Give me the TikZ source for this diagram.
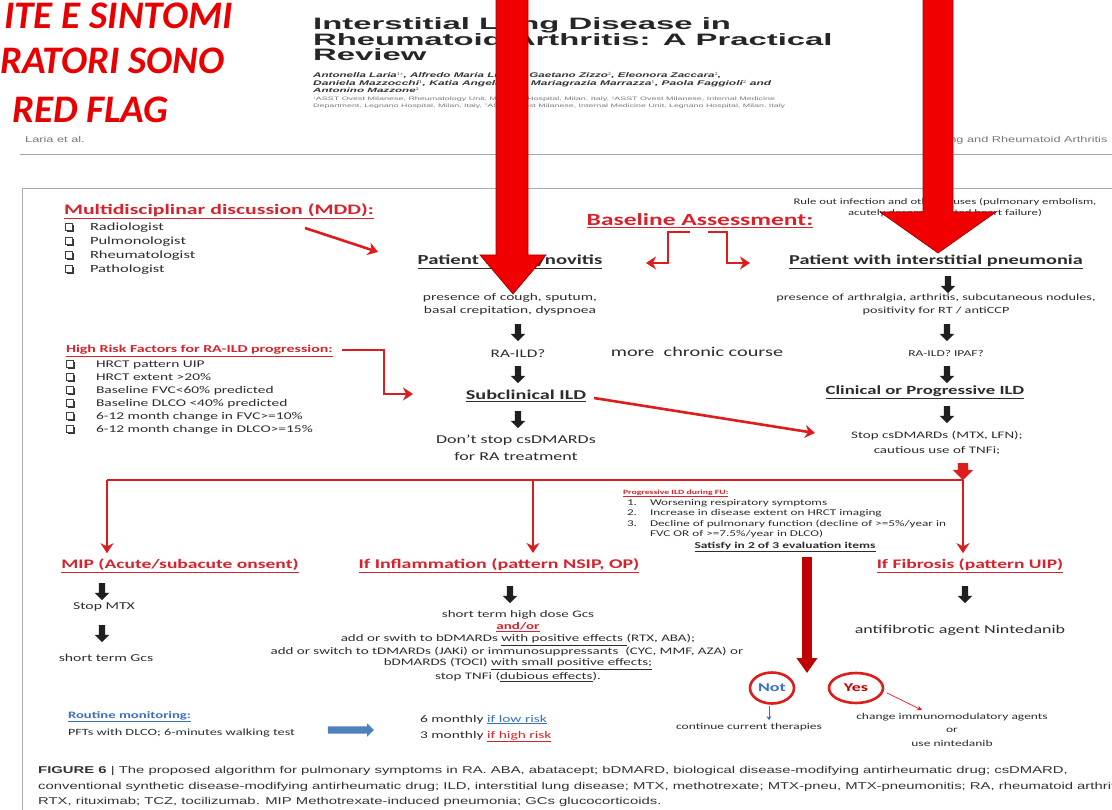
\documentclass[tikz,border=0pt]{standalone}
\usepackage{fontspec}
\setmainfont{Carlito}[FakeStretch=1.5]
\newfontfamily\slogan{Carlito}
\newfontfamily\titlef{Liberation Sans}[FakeStretch=1.99]
\newfontfamily\capf{Liberation Sans}[FakeStretch=1.5]
\usetikzlibrary{shapes.arrows,shapes.geometric,arrows.meta,shadows,calc}

\definecolor{flagred}{RGB}{232,0,0}
\definecolor{headred}{RGB}{215,35,45}
\definecolor{linered}{RGB}{222,28,28}
\definecolor{bigred}{RGB}{240,0,0}
\definecolor{bigredline}{RGB}{165,0,0}
\definecolor{darkred}{RGB}{192,0,0}
\definecolor{ink}{RGB}{45,45,45}
\definecolor{blutxt}{RGB}{60,112,190}
\definecolor{bluarr}{RGB}{79,129,189}
\definecolor{greytxt}{RGB}{120,120,120}

\tikzset{
  every node/.style={inner sep=0pt, outer sep=0pt, text=ink},
  fs/.style={font=\fontsize{#1}{#1}\selectfont},
  fsb/.style={font=\fontsize{#1}{#1}\selectfont\bfseries},
  redhead/.style={fsb=#1, text=headred},
  dn/.style={single arrow, draw=none, fill=black!88, shape border rotate=270,
             inner xsep=3pt, inner ysep=0pt, minimum height=17pt,
             single arrow head extend=4pt},
  chk/.style={draw=black!75, fill=white, line width=0.7pt, minimum size=6.5pt,
              general shadow={fill=black!80, shadow xshift=1.5pt, shadow yshift=-1.5pt}},
  rline/.style={draw=linered, line width=2.6pt},
  rarr/.style={rline, -{Stealth[length=10pt,width=13pt]}},
  bigarrow/.style={fill=bigred, draw=bigredline, line width=0.7pt},
  yesno/.style={ellipse, draw=linered, line width=2.6pt, fsb=12},
}

\begin{document}
\begin{tikzpicture}[x=1pt,y=-1pt]
\useasboundingbox (0,0) rectangle (1112,810);
\clip (0,0) rectangle (1112,810);
\fill[white] (0,0) rectangle (1112,810);

% ---- slide slogan
\begin{scope}[every node/.style={inner sep=0pt, anchor=base west, text=flagred,
    font=\slogan\fontsize{39}{39}\selectfont\bfseries\itshape}]
  \node (s1) at (4,29) {ITE E SINTOMI};
  \node (s2) at (0,74) {RATORI SONO};
  \node (s3) at (12,123) {RED FLAG};
\end{scope}

% ---- article header
\begin{scope}[every node/.style={inner sep=0pt, anchor=base west, text=black!85,
    font=\titlef\fontsize{16.5}{16.5}\selectfont\bfseries}]
  \node (t1) at (313,30) {Interstitial Lung Disease in};
  \node (t2) at (313,46) {Rheumatoid Arthritis: A Practical};
  \node (t3) at (313,61) {Review};
\end{scope}
\begin{scope}[every node/.style={inner sep=0pt, anchor=base west, text=black!80,
    font=\capf\bfseries\itshape}]
  \node (au1) at (313,78) {\resizebox{408pt}{5.5pt}{Antonella Laria$^{1*}$, Alfredo Maria Lurati$^{1}$, Gaetano Zizzo$^{2}$, Eleonora Zaccara$^{2}$,}};
  \node (au2) at (313,86) {\resizebox{458pt}{5.5pt}{Daniela Mazzocchi$^{1}$, Katia Angela Re$^{1}$, Mariagrazia Marrazza$^{1}$, Paola Faggioli$^{2}$ and}};
  \node (au3) at (313,93) {\resizebox{106pt}{5pt}{Antonino Mazzone$^{2}$}};
\end{scope}
\begin{scope}[every node/.style={inner sep=0pt, anchor=base west, text=greytxt, font=\capf}]
  \node (af1) at (313,101) {\resizebox{462pt}{4pt}{$^{1}$ASST Ovest Milanese, Rheumatology Unit, Magenta Hospital, Milan, Italy, $^{2}$ASST Ovest Milanese, Internal Medicine}};
  \node (af2) at (313,107.5) {\resizebox{472pt}{4pt}{Department, Legnano Hospital, Milan, Italy, $^{3}$ASST Ovest Milanese, Internal Medicine Unit, Legnano Hospital, Milan, Italy}};
  \node[font=\capf\fontsize{8.5}{8.5}\selectfont] (runl) at (25,143) {Laria et al.};
  \node[font=\capf\fontsize{8.5}{8.5}\selectfont] (runr) at (935,143) {Lung and Rheumatoid Arthritis};
\end{scope}
\draw[gray!70, line width=1pt] (20,155) -- (1112,155);

% ---- figure frame
\draw[gray!65, line width=0.8pt] (1112,188) -- (22,188) -- (22,810);

% ---- multidisciplinary discussion
\node[redhead=14.5, anchor=base west] (mdd) at (64,215) {\underline{Multidisciplinar discussion (MDD):}};
\foreach \y/\t [count=\i] in {231/Radiologist, 245/Pulmonologist, 259/Rheumatologist, 273/Pathologist} {
  \node[chk] (mc\i) at (69,\y-4) {};
  \node[fs=11, anchor=base west] (mi\i) at (90,\y) {\t};
}
\coordinate (mddS) at (305,228);
\coordinate (mddE) at (378,252);
\draw[rarr] (mddS) -- (mddE);

% ---- baseline assessment
\node[redhead=17] (base) at (700,221) {\underline{Baseline Assessment:}};
\coordinate (bL) at (690,232);
\coordinate (bR) at (708,232);
\draw[rarr] (bL) -- (668,232) -- (668,263) -- (646,263);
\draw[rarr] (bR) -- (727,232) -- (727,263) -- (750,263);

% ---- right branch
\node[fs=8.5] (rule1) at (945,202) {Rule out infection and other causes (pulmonary embolism,};
\node[fs=8.5] (rule2) at (945,213) {acutely decompensated heart failure)};
\node[dn, minimum height=12pt] (ar0) at (942,233) {};
\node[fsb=13.5] (pip) at (936,262) {\underline{Patient with interstitial pneumonia}};
\node[dn] (ar1) at (948,283) {};
\node[fs=9.5] (r1) at (936,298) {presence of arthralgia, arthritis, subcutaneous nodules,};
\node[fs=9.5] (r2) at (936,311) {positivity for RT / antiCCP};
\node[dn] (ar2) at (947,331) {};
\node[fs=9] (r3) at (946,353) {RA-ILD? IPAF?};
\node[dn] (ar3) at (947,373) {};
\node[fsb=12.5] (cpi) at (925,392) {\underline{Clinical or Progressive ILD}};
\node[dn] (ar4) at (947,413) {};
\node[fs=10] (stop1) at (937,436) {Stop csDMARDs (MTX, LFN);};
\node[fs=10] (stop2) at (937,451) {cautious use of TNFi;};
\node[single arrow, draw=none, fill=linered, shape border rotate=270, minimum height=17pt,
      inner xsep=5pt, inner ysep=0pt, single arrow head extend=5pt] (rar) at (963,469) {};

% ---- left branch
\node[fsb=13.8] (psy) at (510,262) {\underline{Patient with synovitis}};
\node[fs=10.3] (l1) at (510,298) {presence of cough, sputum,};
\node[fs=10.3] (l2) at (510,311) {basal crepitation, dyspnoea};
\node[dn] (al1) at (518,331) {};
\node[fs=11.5] (l3) at (518,354) {RA-ILD?};
\node[dn] (al2) at (518,373) {};
\node[fsb=13.5] (subcl) at (526,396) {\underline{Subclinical ILD}};
\node[dn] (al3) at (518,418) {};
\node[fs=12] (l4) at (516,440) {Don't stop csDMARDs};
\node[fs=12] (l5) at (516,456) {for RA treatment};
\node[fs=13.5] (chr) at (697,352) {more\ \ chronic course};
\coordinate (dS) at (594,398);
\coordinate (dE) at (815,433);
\draw[rarr] (dS) -- (dE);

% ---- high risk factors
\node[redhead=10.6, anchor=base west] (hr) at (66,353) {\underline{High Risk Factors for RA-ILD progression:}};
\foreach \t [count=\i] in {HRCT pattern UIP, HRCT extent >20\%, Baseline FVC<60\% predicted,
    Baseline DLCO <40\% predicted, 6-12 month change in FVC>=10\%, 6-12 month change in DLCO>=15\%} {
  \node[chk] (hc\i) at (70,364+13*\i-13) {};
  \node[fs=10.3, anchor=base west] (hi\i) at (96,368+13*\i-13) {\t};
}
\coordinate (hS) at (342,350);
\draw[rarr] (hS) -- (384,350) -- (384,394) -- (413,394);

% ---- lower split
\node[redhead=13] (mip) at (180,566) {\underline{MIP (Acute/subacute onsent)}};
\node[redhead=13.3] (infl) at (499,566) {\underline{If Inflammation (pattern NSIP, OP)}};
\node[redhead=13] (fib) at (970,566) {\underline{If Fibrosis (pattern UIP)}};
\coordinate (b1) at (107,480);
\coordinate (b2) at (533,480);
\coordinate (b3) at (963,480);
\draw[rline] (b1) -- (b3);
\draw[rarr] (b1) -- ($(b1 |- mip.north)+(0,-6)$);
\draw[rarr] (b2) -- ($(b2 |- infl.north)+(0,-6)$);
\draw[rarr] (b3) -- ($(b3 |- fib.north)+(0,-6)$);

% ---- progressive ILD criteria
\node[redhead=6.5, anchor=base west] (pg) at (623,494) {\underline{Progressive ILD during FU:}};
\node[fs=8.8, anchor=base west] (pn1) at (627,505) {1.};
\node[fs=8.8, anchor=base west] (pt1) at (650,505) {Worsening respiratory symptoms};
\node[fs=8.8, anchor=base west] (pn2) at (627,515.5) {2.};
\node[fs=8.8, anchor=base west] (pt2) at (650,515.5) {Increase in disease extent on HRCT imaging};
\node[fs=8.8, anchor=base west] (pn3) at (627,526) {3.};
\node[fs=8.8, anchor=base west] (pt3) at (650,526) {Decline of pulmonary function (decline of >=5\%/year in};
\node[fs=8.8, anchor=base west] (pt4) at (650,536.5) {FVC OR of >=7.5\%/year in DLCO)};
\node[fsb=9] (sat) at (785,547) {\underline{Satisfy in 2 of 3 evaluation items}};

% ---- MIP
\node[dn] (am1) at (102,590) {};
\node[fs=10.5] (mtx) at (104,607) {Stop MTX};
\node[dn] (am2) at (102,632) {};
\node[fs=10.5] (gcs) at (106,658) {short term Gcs};

% ---- inflammation
\node[dn] (ai) at (510,593) {};
\node[fs=10] (i1) at (518,615) {short term high dose Gcs};
\node[fsb=10, text=headred] (i2) at (518,627) {\underline{and/or}};
\node[fs=10] (i3) at (518,640) {add or swith to bDMARDs \underline{with positive effects }(RTX, ABA);};
\node[fs=10] (i4) at (507,652) {add or switch to tDMARDs (JAKi) or immunosuppressants\ \ (CYC, MMF, AZA) or};
\node[fs=10] (i5) at (518,664) {bDMARDS (TOCI) \underline{with small positive effects;}};
\node[fs=10] (i6) at (518,677) {stop TNFi (\underline{dubious effects}).};

% ---- fibrosis
\node[dn] (af) at (965,593) {};
\node[fs=12] (nint) at (960,630) {antifibrotic agent Nintedanib};

% ---- follow-up decision
\coordinate (pS) at (807,557);
\coordinate (pE) at (807,673);
\draw[darkred, line width=10pt, -{Triangle[length=15pt,width=20pt]}] (pS) -- (pE);
\node[yesno, minimum width=44pt, minimum height=31pt, text=blutxt] (not) at (772,688) {Not};
\node[yesno, minimum width=54pt, minimum height=30pt, text=darkred] (yes) at (856,688) {Yes};
\node[fs=9] (cont) at (749,727) {continue current therapies};
\draw[blutxt, line width=0.7pt, -{Stealth[length=4pt,width=5pt]}] ($(not.south)+(-3,2)$) -- ($(not.south |- cont.north)+(-3,-3)$);
\node[fs=9] (ch1) at (952,717) {change immunomodulatory agents};
\node[fs=9] (ch2) at (952,730) {or};
\node[fs=9] (ch3) at (952,743) {use nintedanib};
\draw[linered, line width=0.7pt, -{Stealth[length=5pt,width=5pt]}] ($(yes.east)+(4,5)$) -- ($(ch1.north)+(-30,-3)$);

% ---- routine monitoring
\node[fsb=9.8, text=blutxt, anchor=base west] (rm) at (68,718) {\underline{Routine monitoring:}};
\node[fs=9.5, anchor=base west] (pft) at (68,735) {PFTs with DLCO; 6-minutes walking test};
\node[single arrow, draw=none, fill=bluarr, minimum height=46pt, inner ysep=3.5pt, inner xsep=0pt,
      single arrow head extend=3pt] (ba) at (349,730) {};
\node[fs=10.3, anchor=base west] (m6) at (420,722) {6 monthly \textcolor{blutxt}{\underline{if low risk}}};
\node[fs=10.3, anchor=base west] (m3) at (420,738) {3 monthly \textcolor{headred}{\underline{if high risk}}};

% ---- caption
\begin{scope}[every node/.style={inner sep=0pt, anchor=base west, text=black!80,
    font=\capf\fontsize{9.9}{9.9}\selectfont}]
  \node (c1) at (38,773) {\textbf{FIGURE 6} | The proposed algorithm for pulmonary symptoms in RA. ABA, abatacept; bDMARD, biological disease-modifying antirheumatic drug; csDMARD,};
  \node (c2) at (38,789) {conventional synthetic disease-modifying antirheumatic drug; ILD, interstitial lung disease; MTX, methotrexate; MTX-pneu, MTX-pneumonitis; RA, rheumatoid arthritis;};
  \node (c3) at (38,804) {RTX, rituximab; TCZ, tocilizumab. MIP Methotrexate-induced pneumonia; GCs glucocorticoids.};
\end{scope}

% ---- overlaid pointer arrows
\fill[bigarrow] (496,-2) -- (496,255) -- (480,255) -- (513,294) -- (546,255) -- (528,255) -- (528,-2) -- cycle;
\fill[bigarrow] (923,-2) -- (923,212) -- (880,212) -- (938,253) -- (996,212) -- (953,212) -- (953,-2) -- cycle;
\end{tikzpicture}
\end{document}
